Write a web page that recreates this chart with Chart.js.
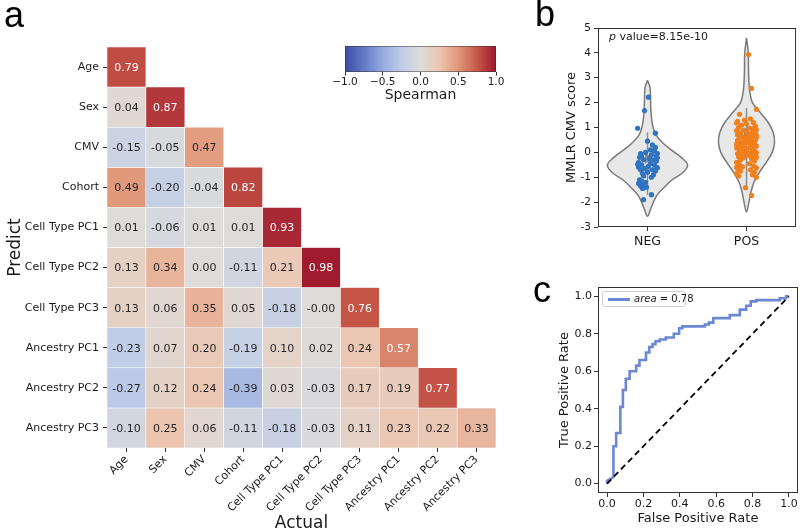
<!DOCTYPE html>
<html>
<head>
<meta charset="UTF-8">
<title>Spearman heatmap, MMLR CMV score, ROC</title>
<script src="https://cdn.jsdelivr.net/npm/chart.js"></script>
<style>
  body { margin: 0; background: white; font-family: 'DejaVu Sans'; }
  #wrap { position: relative; width: 800px; height: 531px; overflow: hidden; background: white; }
  canvas { position: absolute; }
  .letter { position: absolute; font-family: 'Liberation Sans', Arial; font-size: 36px; line-height: 1; color: #000; z-index: 2; }
  .note { position: absolute; font-size: 11px; line-height: 13px; color: #1a1a1a; z-index: 2; white-space: nowrap; }
  #legend { position: absolute; left: 602px; top: 291px; width: 82px; height: 14px; border: 1px solid #d0d0d0; border-radius: 3px; background: white; z-index: 2; }
  #legend span.line { position: absolute; left: 5px; top: 6px; width: 22px; height: 3px; background: #6b88d2; }
  #legend span.txt { position: absolute; left: 31px; top: 0; font-size: 10px; line-height: 14px; color: #1a1a1a; white-space: nowrap; }
</style>
</head>
<body>
<div id="wrap">
  <div class="letter" style="left:4px; top:-3px;">a</div>
  <div class="letter" style="left:535px; top:-4px;">b</div>
  <div class="letter" style="left:533px; top:272px;">c</div>
  <canvas id="heat" width="540" height="531" style="left:0; top:0;"></canvas>
  <canvas id="cbar" width="190" height="72" style="left:330px; top:36px;"></canvas>
  <canvas id="violin" width="260" height="265" style="left:540px; top:0;"></canvas>
  <canvas id="roc" width="260" height="266" style="left:540px; top:265px;"></canvas>
  <div class="note" style="left:609px; top:30px;"><i>p</i> value=8.15e-10</div>
  <div id="legend"><span class="line"></span><span class="txt"><i>area</i> = 0.78</span></div>
</div>

<script>
  // heatmap: actual (columns) vs predicted (rows), lower triangle
  const labels = ['Age', 'Sex', 'CMV', 'Cohort', 'Cell Type PC1', 'Cell Type PC2',
                  'Cell Type PC3', 'Ancestry PC1', 'Ancestry PC2', 'Ancestry PC3'];
  const spearman = [
    [0.79],
    [0.04, 0.87],
    [-0.15, -0.05, 0.47],
    [0.49, -0.20, -0.04, 0.82],
    [0.01, -0.06, 0.01, 0.01, 0.93],
    [0.13, 0.34, 0.00, -0.11, 0.21, 0.98],
    [0.13, 0.06, 0.35, 0.05, -0.18, -0.00, 0.76],
    [-0.23, 0.07, 0.20, -0.19, 0.10, 0.02, 0.24, 0.57],
    [-0.27, 0.12, 0.24, -0.39, 0.03, -0.03, 0.17, 0.19, 0.77],
    [-0.10, 0.25, 0.06, -0.11, -0.18, -0.03, 0.11, 0.23, 0.22, 0.33]
  ];
  const cbarTicks = [-1, -0.5, 0, 0.5, 1];

  // violin: group names, outline (value level -> half width), box stats, strip points
  const groups = ['NEG', 'POS'];
  const violinTicks = [-3, -2, -1, 0, 1, 2, 3, 4, 5];
  const negLevels = [2.9, 2.6, 2.2, 1.8, 1.4, 1.0, 0.7, 0.4, 0.1, -0.2, -0.5, -0.8, -1.1, -1.4, -1.7, -2.0, -2.3, -2.57];
  const negHalf   = [0, 0.025, 0.03, 0.033, 0.04, 0.057, 0.085, 0.15, 0.24, 0.34, 0.405, 0.36, 0.25, 0.17, 0.1, 0.06, 0.03, 0];
  const posLevels = [4.6, 4.0, 3.4, 2.8, 2.4, 2.0, 1.6, 1.2, 0.8, 0.4, 0.0, -0.4, -0.8, -1.2, -1.6, -2.0, -2.4];
  const posHalf   = [0, 0.018, 0.02, 0.025, 0.035, 0.06, 0.14, 0.22, 0.27, 0.283, 0.26, 0.2, 0.13, 0.075, 0.045, 0.025, 0];
  // [whisker low, q1, median, q3, whisker high]
  const negBox = [-1.7, -0.86, -0.5, -0.1, 0.8];
  const posBox = [-1.43, -0.18, 0.31, 0.92, 1.78];
  const negScore = [2.22, 1.68, 0.97, 0.77, 0.45, 0.3, 0.2, 0.1, 0.05, 0.0, -0.05, -0.1, -0.15, -0.15, -0.2,
    -0.25, -0.3, -0.3, -0.35, -0.4, -0.45, -0.5, -0.5, -0.55, -0.6, -0.6, -0.65, -0.7, -0.7, -0.75,
    -0.8, -0.85, -0.9, -1.0, -1.1, -1.15, -1.2, -1.25, -1.3, -1.35, -1.4, -1.45, -1.7, -1.9,
    -0.05, -0.22, -0.48, -0.62, -0.95];
  const negJitter = [0.01, -0.03, -0.1, 0.08, 0.0, 0.05, 0.08, 0.03, 0.07, -0.02, 0.1, 0.04, -0.06, 0.09, -0.08,
    0.02, -0.04, 0.06, 0.09, -0.09, 0.03, -0.06, 0.07, 0.01, -0.09, 0.09, -0.03, 0.05, -0.07, 0.08,
    0.0, -0.05, 0.06, 0.04, -0.08, -0.06, -0.02, -0.09, -0.04, -0.07, -0.01, -0.05, 0.04, -0.04,
    -0.07, 0.1, -0.1, 0.1, -0.04];
  const posScore = [3.93, 2.57, 1.73, 1.53, 1.35, 1.3, 1.25, 1.2, 1.15, 1.1, 1.05, 1.0, 0.98, 0.95, 0.9, 0.88,
    0.85, 0.8, 0.78, 0.75, 0.7, 0.68, 0.65, 0.62, 0.6, 0.58, 0.55, 0.52, 0.5, 0.48, 0.45, 0.42, 0.4,
    0.38, 0.35, 0.32, 0.3, 0.28, 0.25, 0.22, 0.2, 0.18, 0.15, 0.12, 0.1, 0.08, 0.05, 0.02, 0.0, -0.03,
    -0.05, -0.08, -0.1, -0.12, -0.15, -0.18, -0.2, -0.22, -0.25, -0.3, -0.35, -0.4, -0.45, -0.5, -0.55,
    -0.58, -0.62, -0.65, -0.7, -0.75, -0.8, -0.85, -0.9, -0.95, -1.0, -1.42, -1.73, 0.72, 0.33, 0.6,
    -0.02, 1.18, -0.6, 0.9];
  const posJitter = [0.02, 0.05, 0.1, -0.07, 0.04, -0.02, -0.09, 0.07, 0.0, -0.05, 0.09, -0.08, 0.03, 0.06, -0.03, -0.1,
    0.08, 0.01, -0.06, 0.05, -0.09, 0.1, 0.02, -0.04, 0.07, -0.07, 0.04, -0.01, 0.09, -0.09, 0.06, -0.03, 0.02,
    -0.06, 0.08, -0.08, 0.05, -0.02, 0.1, -0.05, 0.03, -0.1, 0.07, -0.04, 0.0, 0.06, -0.07, 0.09, -0.02, 0.04,
    -0.09, 0.08, -0.05, 0.02, 0.06, -0.08, 0.1, -0.03, 0.05, -0.06, 0.08, -0.1, 0.03, -0.07, 0.07,
    -0.04, 0.1, -0.09, 0.04, -0.06, 0.08, -0.1, 0.06, -0.08, 0.1, -0.01, 0.05, 0.09, -0.1, 0.1,
    0.1, -0.1, -0.1, 0.1];

  // ROC curve corners
  const fpr = [0, 0, 0.035, 0.035, 0.05, 0.05, 0.073, 0.073, 0.087, 0.087, 0.103, 0.103, 0.124, 0.124,
    0.16, 0.16, 0.178, 0.178, 0.214, 0.214, 0.232, 0.232, 0.25, 0.25, 0.266, 0.266, 0.29, 0.29,
    0.323, 0.323, 0.367, 0.367, 0.396, 0.396, 0.414, 0.414, 0.538, 0.538, 0.56, 0.56, 0.584, 0.584,
    0.675, 0.675, 0.73, 0.73, 0.765, 0.765, 0.79, 0.79, 0.82, 0.82, 0.95, 0.95, 0.985, 0.985, 1];
  const tpr = [0, 0.015, 0.035, 0.2, 0.2, 0.27, 0.27, 0.41, 0.41, 0.5, 0.5, 0.56, 0.56, 0.6,
    0.6, 0.63, 0.63, 0.66, 0.66, 0.7, 0.7, 0.73, 0.73, 0.745, 0.745, 0.76, 0.76, 0.77,
    0.77, 0.78, 0.78, 0.8, 0.8, 0.83, 0.83, 0.84, 0.84, 0.85, 0.85, 0.86, 0.86, 0.884,
    0.884, 0.9, 0.9, 0.929, 0.929, 0.95, 0.95, 0.973, 0.973, 0.98, 0.98, 0.99, 0.99, 1.0, 1];
  const chance = [0, 1];
  const rocTicks = [0, 0.2, 0.4, 0.6, 0.8, 1.0];

  Chart.defaults.font.family = 'DejaVu Sans';
  Chart.defaults.color = '#1a1a1a';

  // coolwarm (true values decide the text colour, muted ones are drawn like the picture)
  const cw = [[58, 76, 192], [98, 130, 234], [141, 176, 254], [184, 208, 249], [221, 220, 220],
              [245, 196, 173], [244, 154, 123], [222, 96, 77], [180, 4, 38]];
  const cwShown = [[60, 76, 165], [98, 122, 198], [150, 170, 222], [192, 205, 232], [221, 220, 218],
                   [236, 197, 176], [225, 151, 121], [198, 88, 72], [158, 22, 45]];
  function interp(map, v) {
    const t = Math.min(1, Math.max(0, (v + 1) / 2)) * (map.length - 1);
    const i = Math.min(map.length - 2, Math.floor(t)), f = t - i;
    return map[i].map((c, k) => Math.round(c + (map[i + 1][k] - c) * f));
  }
  const coolwarm = v => 'rgb(' + interp(cwShown, v).join(',') + ')';
  function textOn(v) {
    const lin = interp(cw, v).map(c => { c /= 255; return c <= 0.03928 ? c / 12.92 : Math.pow((c + 0.055) / 1.055, 2.4); });
    const lum = 0.2126 * lin[0] + 0.7152 * lin[1] + 0.0722 * lin[2];
    return lum > 0.408 ? '#262626' : '#ffffff';
  }
  const fmt = v => Object.is(v, -0) ? '-0.00' : v.toFixed(2);

  const tickGrid = { display: true, drawOnChartArea: false, tickLength: 4, color: '#333' };

  const cellText = {
    id: 'cellText',
    afterDatasetsDraw(chart) {
      const ctx = chart.ctx;
      ctx.save();
      ctx.font = '11px "DejaVu Sans"';
      ctx.textAlign = 'center';
      ctx.textBaseline = 'middle';
      spearman.forEach((row, r) => {
        const meta = chart.getDatasetMeta(r);
        row.forEach((v, j) => {
          const p = meta.data[j].getCenterPoint();
          ctx.fillStyle = textOn(v);
          ctx.fillText(fmt(v), p.x, p.y + 1);
        });
      });
      ctx.restore();
    }
  };

  const frame = {
    id: 'frame',
    afterDraw(chart) {
      const { ctx, chartArea: a } = chart;
      ctx.save();
      ctx.strokeStyle = '#333';
      ctx.lineWidth = 1;
      ctx.strokeRect(Math.round(a.left) + 0.5, Math.round(a.top) + 0.5,
                     Math.round(a.right - a.left) - 1, Math.round(a.bottom - a.top) - 1);
      ctx.restore();
    }
  };

  // a: heatmap
  new Chart(document.getElementById('heat'), {
    type: 'bar',
    data: {
      labels: labels,
      datasets: spearman.map((row, r) => ({
        data: labels.map((c, j) => j < row.length ? [r, r + 1] : null),
        backgroundColor: labels.map((c, j) => j < row.length ? coolwarm(row[j]) : 'rgba(0,0,0,0)'),
        borderColor: '#ffffff',
        borderWidth: 0.6,
        borderSkipped: false,
        barPercentage: 1,
        categoryPercentage: 1,
        grouped: false
      }))
    },
    options: {
      responsive: false,
      animation: false,
      layout: { padding: { top: 47, right: 44, left: 0, bottom: 0 } },
      plugins: { legend: { display: false }, tooltip: { enabled: false } },
      scales: {
        x: {
          offset: true,
          grid: Object.assign({ offset: false }, tickGrid),
          border: { display: false },
          ticks: { autoSkip: false, minRotation: 45, maxRotation: 45, padding: 1, font: { size: 11 } },
          title: { display: true, text: 'Actual', font: { size: 17 }, padding: { top: 0, bottom: -3 } },
          afterFit: a => { a.height = 83; }
        },
        y: {
          type: 'linear', min: 0, max: 10, reverse: true,
          afterBuildTicks: a => { a.ticks = labels.map((_, i) => ({ value: i + 0.5 })); },
          grid: tickGrid,
          border: { display: false },
          ticks: { callback: (v, i) => labels[i], padding: 4, font: { size: 11 } },
          title: { display: true, text: 'Predict', font: { size: 17 }, padding: { top: 5, bottom: 0 } },
          afterFit: a => { a.width = 107; }
        }
      }
    },
    plugins: [cellText]
  });

  // colour bar
  new Chart(document.getElementById('cbar'), {
    type: 'bar',
    data: {
      labels: [''],
      datasets: [{
        data: [[cbarTicks[0], cbarTicks[cbarTicks.length - 1]]],
        backgroundColor: ctx => {
          const ch = ctx.chart;
          if (!ch.chartArea) return null;
          const xs = ch.scales.x;
          const g = ch.ctx.createLinearGradient(xs.getPixelForValue(-1), 0, xs.getPixelForValue(1), 0);
          cwShown.forEach((c, i) => g.addColorStop(i / (cwShown.length - 1), 'rgb(' + c.join(',') + ')'));
          return g;
        },
        borderColor: '#333',
        borderWidth: 0.8,
        borderSkipped: false,
        barPercentage: 1,
        categoryPercentage: 1
      }]
    },
    options: {
      indexAxis: 'y',
      responsive: false,
      animation: false,
      layout: { padding: { top: 10, left: 15, right: 24, bottom: 0 } },
      plugins: { legend: { display: false }, tooltip: { enabled: false } },
      scales: {
        x: {
          type: 'linear', min: -1, max: 1,
          afterBuildTicks: a => { a.ticks = cbarTicks.map(v => ({ value: v })); },
          grid: Object.assign({}, tickGrid, { tickLength: 3.5 }),
          border: { display: false },
          ticks: { callback: v => v.toFixed(1).replace('-', '\u2212'), padding: 0, font: { size: 10.5 } },
          title: { display: true, text: 'Spearman', font: { size: 14 }, padding: { top: 0, bottom: 4 } },
          afterFit: a => { a.height = 36; }
        },
        y: { display: false }
      }
    }
  });

  // b: violin + strip
  function outline(levels, half, center) {
    const left = levels.map((v, i) => ({ x: center - half[i], y: v }));
    const right = levels.slice(0, -1).reverse().map((v, k) => {
      const i = levels.length - 2 - k;
      return { x: center + half[i], y: v };
    });
    return left.concat(right);
  }
  const violinSets = [];
  [[negScore, negJitter, '#2f74c0'], [posScore, posJitter, '#f07f1c']].forEach(([s, jit, col], g) => {
    violinSets.push({ type: 'scatter', data: s.map((v, i) => ({ x: g + jit[i], y: v })),
      backgroundColor: col, borderWidth: 0, pointRadius: 2.6, order: 0 });
  });
  [negBox, posBox].forEach((b, g) => {
    violinSets.push({ type: 'scatter', data: [{ x: g, y: b[2] }], backgroundColor: '#ffffff',
      borderWidth: 0, pointRadius: 2.2, order: 1 });
    violinSets.push({ type: 'line', data: [{ x: g, y: b[1] }, { x: g, y: b[3] }], borderColor: '#8c8c8c',
      borderWidth: 5, borderCapStyle: 'butt', pointRadius: 0, fill: false, order: 2 });
    violinSets.push({ type: 'line', data: [{ x: g, y: b[0] }, { x: g, y: b[4] }], borderColor: '#8c8c8c',
      borderWidth: 1.5, pointRadius: 0, fill: false, order: 3 });
  });
  [[negLevels, negHalf], [posLevels, posHalf]].forEach(([lv, hw], g) => {
    violinSets.push({ type: 'line', data: outline(lv, hw, g), borderColor: '#7a7a7a', borderWidth: 1.5,
      backgroundColor: '#e8e8e8', fill: 'shape', tension: 0.35, pointRadius: 0, order: 4 });
  });

  new Chart(document.getElementById('violin'), {
    type: 'scatter',
    data: { datasets: violinSets },
    options: {
      responsive: false,
      animation: false,
      layout: { padding: { top: 28, right: 2, left: 0, bottom: 0 } },
      plugins: { legend: { display: false }, tooltip: { enabled: false } },
      scales: {
        x: {
          type: 'linear', min: -0.5, max: 1.5,
          afterBuildTicks: a => { a.ticks = groups.map((_, i) => ({ value: i })); },
          grid: tickGrid,
          border: { display: false },
          ticks: { callback: (v, i) => groups[i], padding: 3, font: { size: 12.5 } },
          afterFit: a => { a.height = 38; }
        },
        y: {
          type: 'linear', min: -3, max: 5,
          afterBuildTicks: a => { a.ticks = violinTicks.map(v => ({ value: v })); },
          grid: tickGrid,
          border: { display: false },
          ticks: { callback: v => String(v), padding: 3, font: { size: 10.5 } },
          title: { display: true, text: 'MMLR CMV score', font: { size: 13 }, padding: { top: 24, bottom: 0 } },
          afterFit: a => { a.width = 58; }
        }
      }
    },
    plugins: [frame]
  });

  // c: ROC
  new Chart(document.getElementById('roc'), {
    type: 'scatter',
    data: {
      datasets: [
        { data: chance.map(v => ({ x: v, y: v })), showLine: true, borderColor: '#000', borderWidth: 1.8,
          borderDash: [6, 4], pointRadius: 0, order: 0 },
        { data: fpr.map((v, i) => ({ x: v, y: tpr[i] })), showLine: true, borderColor: '#6b88d2',
          borderWidth: 2.6, pointRadius: 0, order: 1 }
      ]
    },
    options: {
      responsive: false,
      animation: false,
      layout: { padding: { top: 22, right: 2, left: 0, bottom: 0 } },
      plugins: { legend: { display: false }, tooltip: { enabled: false } },
      scales: {
        x: {
          type: 'linear', min: -0.05, max: 1.05,
          afterBuildTicks: a => { a.ticks = rocTicks.map(v => ({ value: v })); },
          grid: tickGrid,
          border: { display: false },
          ticks: { callback: v => v.toFixed(1), padding: 1, font: { size: 11 } },
          title: { display: true, text: 'False Positive Rate', font: { size: 13 }, padding: { top: 0, bottom: 5 } },
          afterFit: a => { a.height = 38; }
        },
        y: {
          type: 'linear', min: -0.05, max: 1.05,
          afterBuildTicks: a => { a.ticks = rocTicks.map(v => ({ value: v })); },
          grid: tickGrid,
          border: { display: false },
          ticks: { callback: v => v.toFixed(1), padding: 2, font: { size: 11 } },
          title: { display: true, text: 'True Positive Rate', font: { size: 13 }, padding: { top: 17, bottom: 0 } },
          afterFit: a => { a.width = 58; }
        }
      }
    },
    plugins: [frame]
  });
</script>
</body>
</html>
